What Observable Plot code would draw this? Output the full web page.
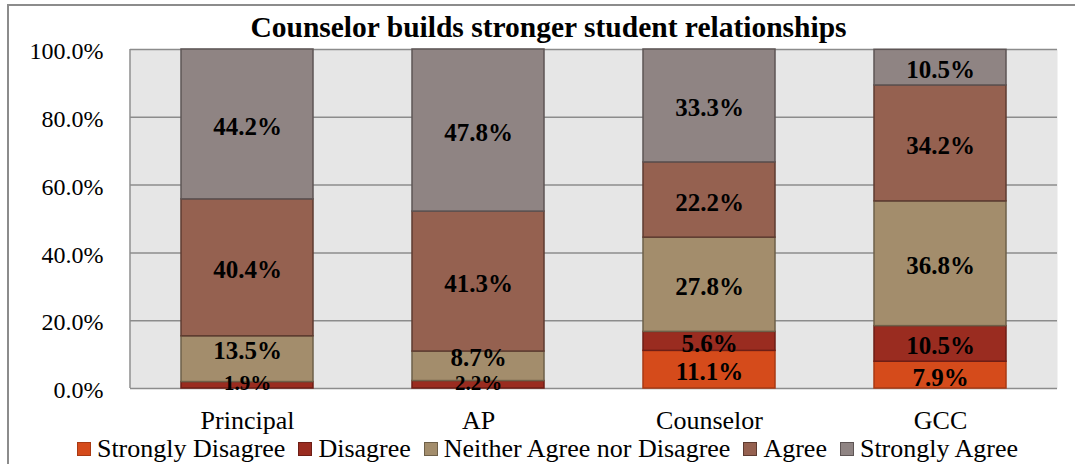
<!DOCTYPE html>
<html>
<head>
<meta charset="utf-8">
<script src="https://cdn.jsdelivr.net/npm/d3@7"></script>
<script src="https://cdn.jsdelivr.net/npm/@observablehq/plot@0.6"></script>
<style>
  html, body { margin: 0; padding: 0; background: #ffffff; }
  #wrap { position: relative; width: 1075px; height: 464px; overflow: hidden; font-family: "Liberation Serif", "Times New Roman", serif; }
  #frame { position: absolute; left: 7px; top: 4px; width: 1200px; height: 600px; border-left: 2px solid #8c8c8c; border-top: 2px solid #8c8c8c; box-sizing: border-box; }
  #title { position: absolute; left: 0; top: 5px; width: 1097px; text-align: center; font-weight: bold; font-size: 29.5px; line-height: 44px; color: #000; white-space: nowrap; }
  #chart { position: absolute; left: 0; top: 44px; }
  #legend { position: absolute; left: 0; top: 437px; width: 1095px; display: flex; justify-content: center; align-items: center; font-size: 26px; line-height: 24px; color: #000; white-space: nowrap; }
  .item { display: flex; align-items: center; margin: 0 6.5px; }
  .sw { width: 14px; height: 14px; box-sizing: border-box; border: 1.5px solid; margin-right: 6px; }
</style>
</head>
<body>
<div id="wrap">
  <div id="frame"></div>
  <div id="title">Counselor builds stronger student relationships</div>
  <div id="chart"></div>
  <div id="legend"></div>
</div>
<script>
const categories = ["Principal", "AP", "Counselor", "GCC"];
const responses = ["Strongly Disagree", "Disagree", "Neither Agree nor Disagree", "Agree", "Strongly Agree"];
const stronglyDisagree = [0, 0, 11.1, 7.9];
const disagree = [1.9, 2.2, 5.6, 10.5];
const neither = [13.5, 8.7, 27.8, 36.8];
const agree = [40.4, 41.3, 22.2, 34.2];
const stronglyAgree = [44.2, 47.8, 33.3, 10.5];
const yTicks = [0, 20, 40, 60, 80, 100];
const fills = ["#d54b1b", "#9a2c20", "#a38d6c", "#956150", "#8f8483"];
const strokes = ["#a83a14", "#6e1e16", "#6e6049", "#5e3b30", "#5e5555"];

const series = [stronglyDisagree, disagree, neither, agree, stronglyAgree];
const rows = [];
categories.forEach((cat, i) => {
  let prev = null;
  responses.forEach((resp, j) => {
    const value = series[j][i];
    if (value > 0) {
      const kind = value < 3 ? "tiny" : (prev !== null && prev < 3 ? "aboveTiny" : "normal");
      rows.push({cat, resp, value, fill: fills[j], stroke: strokes[j], kind});
      prev = value;
    }
  });
});

const leftLine = (index, scales, values, dimensions) => {
  const {marginLeft, marginTop, height, marginBottom} = dimensions;
  return d3.create("svg:line")
    .attr("x1", marginLeft).attr("x2", marginLeft)
    .attr("y1", marginTop).attr("y2", height - marginBottom)
    .attr("stroke", "#8c8c8c").attr("stroke-width", 1.5)
    .node();
};

const fmt = d => d.toFixed(1) + "%";
const stackOpts = {x: "cat", y: "value", z: "resp", order: responses};
const labelMark = (kind, dy, size) => Plot.text(rows, Plot.stackY({
  ...stackOpts,
  text: d => d.kind === kind ? fmt(d.value) : "",
  fontWeight: "bold", fontSize: size, fill: "#000", dy
}));

const chart = Plot.plot({
  width: 1075,
  height: 396,
  marginTop: 5,
  marginBottom: 52,
  marginLeft: 130,
  marginRight: 18,
  style: {fontFamily: "'Liberation Serif', 'Times New Roman', serif", fontSize: "24px", color: "#000", background: "transparent", overflow: "visible"},
  x: {domain: categories, paddingInner: 0.43, paddingOuter: 0.215, label: null},
  y: {domain: [0, 100], ticks: yTicks, label: null},
  color: {type: "identity"},
  marks: [
    Plot.frame({fill: "#e6e6e6", stroke: "none"}),
    Plot.gridY(yTicks, {stroke: "#8c8c8c", strokeOpacity: 1, strokeWidth: 1.5}),
    leftLine,
    Plot.barY(rows, Plot.stackY({...stackOpts, fill: "fill", stroke: "stroke", strokeWidth: 1.5})),
    labelMark("normal", 2.5, 25),
    labelMark("aboveTiny", -8, 25),
    labelMark("tiny", -2, 21),
    Plot.axisY(yTicks, {tickSize: 0, tickPadding: 27, tickFormat: fmt, fontSize: 24, dy: 2, label: null}),
    Plot.axisX({tickSize: 0, tickPadding: 22, fontSize: 26, label: null})
  ]
});
document.getElementById("chart").appendChild(chart);

const legend = document.getElementById("legend");
responses.forEach((r, j) => {
  const item = document.createElement("div");
  item.className = "item";
  const sw = document.createElement("div");
  sw.className = "sw";
  sw.style.background = fills[j];
  sw.style.borderColor = strokes[j];
  const label = document.createElement("span");
  label.textContent = r;
  item.appendChild(sw);
  item.appendChild(label);
  legend.appendChild(item);
});
</script>
</body>
</html>
